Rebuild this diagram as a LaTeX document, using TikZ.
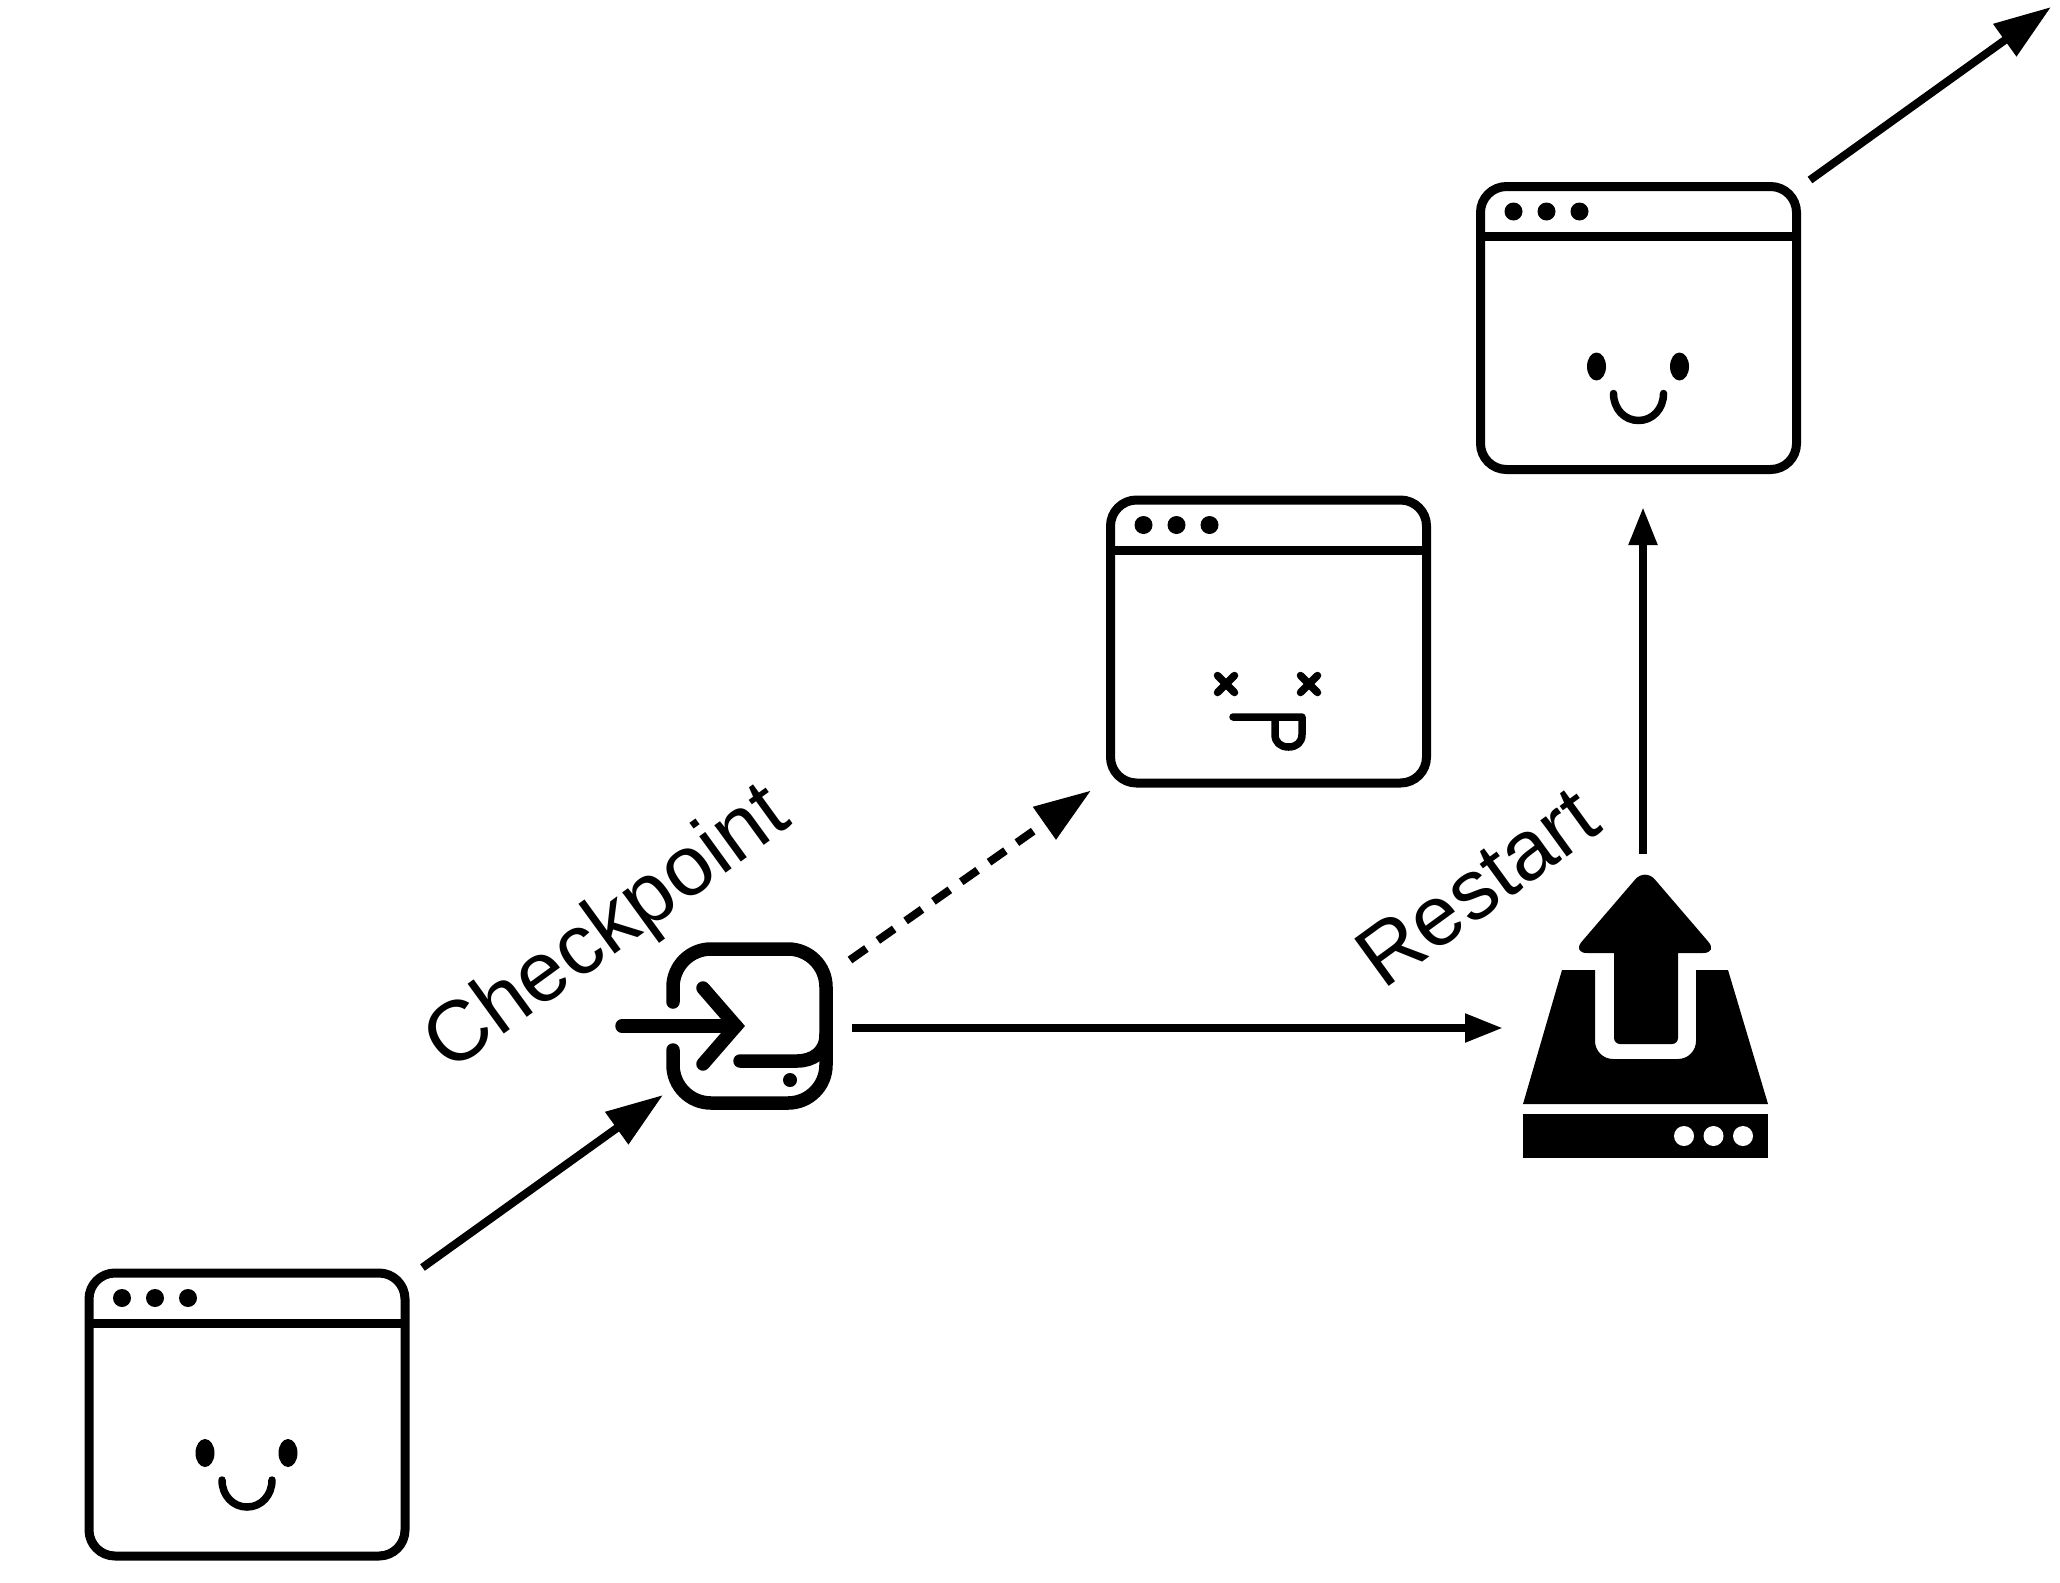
\documentclass[tikz,border=0pt]{standalone}
\usepackage{fontspec}
\setmainfont{Liberation Sans}
\usetikzlibrary{arrows.meta}

\tikzset{
  chrome/.pic = {
    \draw[line width=9pt] (-158,-91.5) -- (158,-91.5);
    \foreach \dotx in {-125,-92,-59}
      \fill (\dotx,-116.5) circle (9);
  },
  happy/.pic = {
    \fill (-42,38.5) ellipse (9.5 and 14);
    \fill (41,38.5) ellipse (9.5 and 14);
    \draw[face] (-25,65.5) .. controls (-25,81) and (-14,92.5) .. (0,92.5)
                           .. controls (14,92.5) and (25,81) .. (25,65.5);
  },
  dead/.pic = {
    \foreach \eyex in {-42.5,40.5} {
      \draw[face] (\eyex-8.5,34) -- (\eyex+8.5,51);
      \draw[face] (\eyex-8.5,51) -- (\eyex+8.5,34);
    }
    \draw[face] (-35.5,75.5) -- (33.5,75.5) -- (33.5,93)
                .. controls (33.5,101) and (28,105.5) .. (20,105.5)
                .. controls (12,105.5) and (6.5,101) .. (6.5,93) -- (6.5,75.5);
  }
}

\begin{document}
\begin{tikzpicture}[x=1pt, y=-1pt,
                      face/.style = {line width=7.5pt, line cap=round, line join=round},
                      appwin/.style = {draw, line width=9pt, rounded corners=26pt,
                        minimum width=316pt, minimum height=283pt, inner sep=0pt},
                      iconbox/.style = {inner sep=0pt, outer sep=0pt},
                      link/.style = {line width=8pt, -{Triangle[length=57pt, width=38pt]}},
                      thinlink/.style = {line width=8pt, -{Triangle[length=38pt, width=27pt]}},
                      deadlink/.style = {line width=8pt, dash pattern=on 20pt off 14pt,
                        -{Triangle[length=57pt, width=38pt]}},
                      tag/.style = {anchor=base, rotate=36, font=\fontsize{85}{90}\selectfont}]
  \useasboundingbox (0,0) rectangle (2060,1582);

  \node[appwin] (win1) at (247,1414.5) {};
  \node[appwin] (win2) at (1268.5,641.5) {};
  \node[appwin] (win3) at (1638.5,328) {};
  \node[iconbox, minimum width=153pt, minimum height=154pt] (chk) at (749.5,1026) {};
  \node[iconbox, minimum width=245pt, minimum height=283pt] (rst) at (1645.5,1016.5) {};
  \coordinate (away) at (2051,7);

  \pic at (win1) {chrome};
  \pic at (win1) {happy};
  \pic at (win2) {chrome};
  \pic at (win2) {dead};
  \pic at (win3) {chrome};
  \pic at (win3) {happy};

  % checkpoint icon
  \draw[line width=13.5pt, line cap=round, rounded corners=38pt]
    (673,1002) -- (673,949) -- (826,949) -- (826,1103) -- (673,1103) -- (673,1050);
  \draw[line width=13.5pt, line cap=round] (622,1026) -- (736,1026);
  \draw[line width=13.5pt, line cap=round] (703,988) -- (736,1026) -- (703,1064);
  \draw[line width=13.5pt, line cap=round]
    (740,1061) -- (797,1061) .. controls (813,1061) and (826,1052) .. (826,1035);
  \fill (790,1080) circle (7);

  % restart icon
  \fill[rounded corners=15pt] (1645,868) -- (1718,953) -- (1572,953) -- cycle;
  \fill[rounded corners=6pt] (1614,940) rectangle (1678,1044);
  \fill (1562,970) -- (1595,970) [rounded corners=18pt] -- (1595,1059) -- (1696,1059)
        [sharp corners] -- (1696,970) -- (1728,970) -- (1768,1104) -- (1523,1104) -- cycle;
  \fill (1523,1114) rectangle (1768,1158);
  \foreach \dotx in {1684,1713.5,1743}
    \fill[white] (\dotx,1136) circle (10);

  \node[tag] (chktag) at (622,949) {Checkpoint};
  \node[tag] (rsttag) at (1494,910) {Restart};

  \draw[link] ([shift={(13,-1)}]win1.north east) -- ([shift={(-10,-8)}]chk.south west);
  \draw[deadlink] ([shift={(24,11)}]chk.north east) -- ([shift={(-15,3)}]win2.south west);
  \draw[thinlink] ([shift={(26,2)}]chk.east) -- ([shift={(-20,11.5)}]rst.west);
  \draw[thinlink] ([shift={(-2.5,-21)}]rst.north) -- ([shift={(4.5,33)}]win3.south);
  \draw[link] ([shift={(9,-2)}]win3.north east) -- (away);
\end{tikzpicture}
\end{document}
